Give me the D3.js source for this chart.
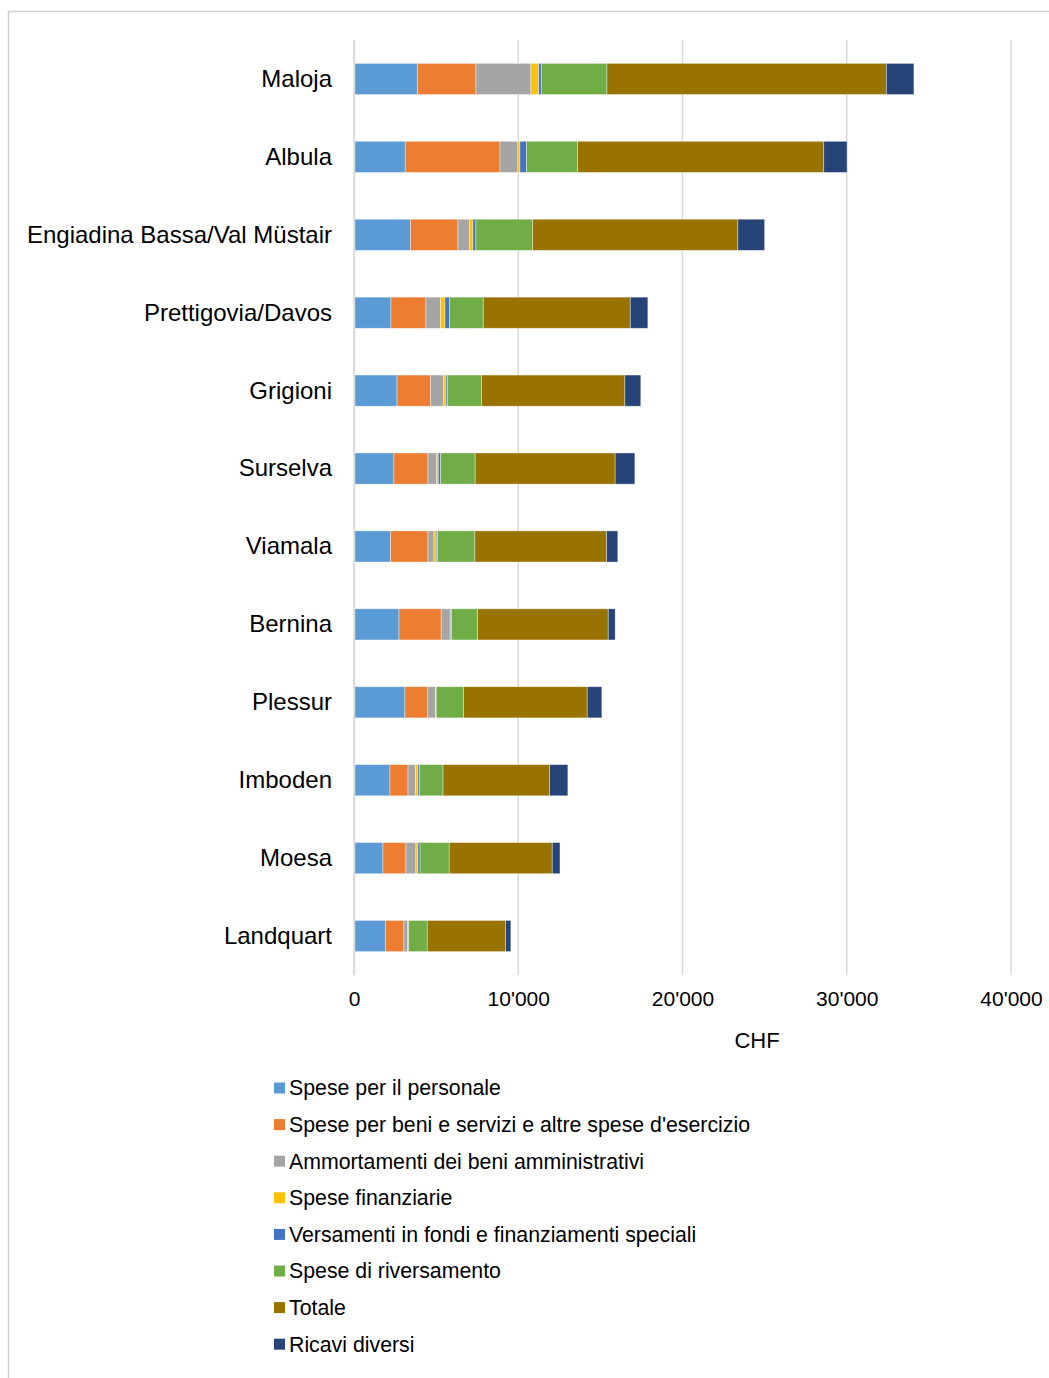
<!DOCTYPE html>
<html>
<head>
<meta charset="utf-8">
<script src="https://cdn.jsdelivr.net/npm/d3@7"></script>
<style>
  html, body { margin: 0; padding: 0; background: #fff; }
  svg { display: block; font-family: "Liberation Sans", Arial, sans-serif; }
</style>
</head>
<body>
<svg id="chart" width="1049" height="1378"></svg>
<script>
const categories = ["Maloja", "Albula", "Engiadina Bassa/Val Müstair", "Prettigovia/Davos", "Grigioni",
  "Surselva", "Viamala", "Bernina", "Plessur", "Imboden", "Moesa", "Landquart"];

const seriesNames = ["Spese per il personale", "Spese per beni e servizi e altre spese d'esercizio",
  "Ammortamenti dei beni amministrativi", "Spese finanziarie", "Versamenti in fondi e finanziamenti speciali",
  "Spese di riversamento", "Totale", "Ricavi diversi"];

const personale     = [3860, 3120, 3440, 2250, 2620, 2430, 2230, 2740, 3100, 2190, 1760, 1910];
const beniServizi   = [3560, 5770, 2890, 2130, 2050, 2070, 2270, 2570, 1380, 1100, 1400, 1130];
const ammortamenti  = [3350, 1090,  700,  890,  790,  530,  370,  550,  490,  460,  610,  230];
const finanziarie   = [ 470,  120,  210,  270,  140,  100,  140,   20,   30,  140,  120,   40];
const versamenti    = [ 160,  400,  180,  280,  100,  140,   80,   60,   10,   90,  130,   20];
const riversamento  = [4000, 3120, 3450, 2050, 2070, 2110, 2270, 1590, 1660, 1440, 1780, 1130];
const totale        = [17010, 14980, 12500, 8950, 8720, 8520, 8020, 7950, 7530, 6490, 6270, 4770];
const ricavi        = [1680, 1420, 1630, 1070,  970, 1200,  680,  420,  890, 1110,  470,  320];

const xTicks = [0, 10000, 20000, 30000, 40000];
const xTickLabels = ["0", "10'000", "20'000", "30'000", "40'000"];
const axisTitle = "CHF";

const colors = ["#5B9BD5", "#ED7D31", "#A5A5A5", "#FFC000", "#4472C4", "#70AD47", "#997300", "#264478"];

const seriesValues = [personale, beniServizi, ammortamenti, finanziarie, versamenti, riversamento, totale, ricavi];
const keys = seriesNames;
const rows = categories.map((c, i) => {
  const r = { cat: c };
  keys.forEach((k, j) => r[k] = seriesValues[j][i]);
  return r;
});
const stacked = d3.stack().keys(keys)(rows);

const svg = d3.select("#chart");

// outer frame
svg.append("rect").attr("x", 8.5).attr("y", 11.5).attr("width", 1100).attr("height", 1400)
  .attr("fill", "none").attr("stroke", "#d0d0d0").attr("stroke-width", 1.5);

const x = d3.scaleLinear().domain([0, 40000]).range([354, 1011]);
const y = d3.scaleBand().domain(categories).range([40, 975]).paddingInner(0.6).paddingOuter(0.3);

// gridlines
svg.append("g").selectAll("line").data(xTicks).join("line")
  .attr("x1", d => x(d)).attr("x2", d => x(d))
  .attr("y1", 40).attr("y2", 975)
  .attr("stroke", "#d9d9d9").attr("stroke-width", 1.5);

// bars
svg.append("g").selectAll("g").data(stacked).join("g")
  .attr("fill", (d, i) => colors[i])
  .selectAll("rect").data(d => d).join("rect")
  .attr("x", d => x(d[0]))
  .attr("width", d => Math.max(0, x(d[1]) - x(d[0])))
  .attr("y", d => y(d.data.cat))
  .attr("height", y.bandwidth())
  .attr("stroke", "#ffffff").attr("stroke-opacity", 0.5).attr("stroke-width", 0.75);

// category axis
const yAxis = svg.append("g").attr("transform", "translate(354,0)")
  .call(d3.axisLeft(y).tickSize(0).tickPadding(22));
yAxis.select(".domain").attr("stroke", "#d9d9d9").attr("stroke-width", 1.5);
yAxis.selectAll("text").attr("font-size", 24).attr("fill", "#000").attr("dy", "0.33em")
  .attr("font-family", "'Liberation Sans', Arial, sans-serif");

// x axis tick labels
const xAxis = svg.append("g").attr("transform", "translate(0,975)")
  .call(d3.axisBottom(x).tickValues(xTicks).tickSize(0).tickPadding(16)
    .tickFormat((d, i) => xTickLabels[i]));
xAxis.select(".domain").remove();
xAxis.selectAll("text").attr("font-size", 21).attr("fill", "#000")
  .attr("font-family", "'Liberation Sans', Arial, sans-serif");

svg.append("text").attr("x", 757).attr("y", 1048).attr("text-anchor", "middle")
  .attr("font-size", 22).attr("fill", "#000").text(axisTitle);

// legend
const legend = svg.append("g");
const lg = legend.selectAll("g").data(seriesNames).join("g")
  .attr("transform", (d, i) => `translate(274, ${1088 + i * 36.6})`);
lg.append("rect").attr("x", 0).attr("y", -5.5).attr("width", 11).attr("height", 11)
  .attr("fill", (d, i) => colors[i]);
lg.append("text").attr("x", 15).attr("y", 0).attr("dy", "0.35em")
  .attr("font-size", 21.3).attr("fill", "#000").text(d => d);
</script>
</body>
</html>
